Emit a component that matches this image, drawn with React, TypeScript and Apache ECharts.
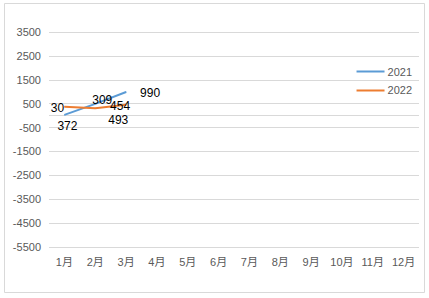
import React, { useEffect, useRef } from "react";
import * as echarts from "echarts";

const months = ["1月", "2月", "3月", "4月", "5月", "6月", "7月", "8月", "9月", "10月", "11月", "12月"];
const seriesNames = ["2021", "2022"];
const values2021 = [30, 493, 990];
const values2022 = [372, 309, 454];
const yMin = -5500;
const yMax = 3500;
const yStep = 1000;

// label offsets (layout only)
const offsets2021: [number, number][] = [[-7, -7], [23, 16], [24, 1]];
const offsets2022: [number, number][] = [[3, 19], [7, -8], [-6, 1]];

const FONT = "'Liberation Sans', Arial, 'Noto Sans CJK SC', sans-serif";

function buildData(values: number[], offs: [number, number][]) {
  return values.map((v, i) => ({
    value: v,
    label: { show: true, position: "inside", offset: offs[i], formatter: String(v) },
  }));
}

export default function App() {
  const ref = useRef<HTMLDivElement>(null);
  useEffect(() => {
    if (!ref.current) return;
    const chart = echarts.init(ref.current, null, { renderer: "svg" });
    const labelStyle = { color: "#000000", fontSize: 12, fontFamily: FONT };
    chart.setOption({
      animation: false,
      backgroundColor: "#ffffff",
      graphic: [
        {
          type: "rect",
          shape: { x: 4.5, y: 3.5, width: 420, height: 289 },
          style: { fill: "none", stroke: "#d9d9d9", lineWidth: 1 },
          silent: true,
        },
      ],
      grid: { left: 49, right: 10, top: 32, bottom: 51, containLabel: false },
      legend: {
        orient: "vertical",
        right: 12,
        top: 61,
        icon: "rect",
        itemWidth: 28,
        itemHeight: 2,
        itemGap: 8,
        textStyle: { color: "#595959", fontSize: 11, fontFamily: FONT, padding: [0, 0, 0, -2] },
        data: seriesNames,
      },
      xAxis: {
        type: "category",
        data: months,
        boundaryGap: true,
        axisLine: { show: false },
        axisTick: { show: false },
        axisLabel: { color: "#595959", fontSize: 11, fontFamily: FONT, margin: 9 },
        splitLine: { show: false },
      },
      yAxis: {
        type: "value",
        min: yMin,
        max: yMax,
        interval: yStep,
        axisLine: { show: false },
        axisTick: { show: false },
        axisLabel: {
          color: "#595959",
          fontSize: 11,
          fontFamily: FONT,
          margin: 8,
          formatter: (v: number) => String(v),
        },
        splitLine: { lineStyle: { color: "#d9d9d9", width: 1 } },
      },
      series: [
        {
          name: seriesNames[0],
          type: "line",
          data: buildData(values2021, offsets2021),
          symbol: "circle",
          symbolSize: 1,
          showSymbol: true,
          color: "#5B9BD5",
          lineStyle: { color: "#5B9BD5", width: 2 },
          itemStyle: { color: "#5B9BD5" },
          label: labelStyle,
          z: 3,
          markLine: {
            silent: true,
            symbol: ["none", "none"],
            label: { show: false },
            lineStyle: { color: "#d9d9d9", type: "solid", width: 1 },
            data: [{ yAxis: 0 }],
            z: 1,
          },
        },
        {
          name: seriesNames[1],
          type: "line",
          data: buildData(values2022, offsets2022),
          symbol: "circle",
          symbolSize: 1,
          showSymbol: true,
          color: "#ED7D31",
          lineStyle: { color: "#ED7D31", width: 2 },
          itemStyle: { color: "#ED7D31" },
          label: labelStyle,
          z: 4,
        },
      ],
    });
    return () => chart.dispose();
  }, []);
  return (
    <div
      ref={ref}
      style={{ position: "fixed", left: 0, top: 0, width: 429, height: 298, background: "#fff" }}
    />
  );
}
